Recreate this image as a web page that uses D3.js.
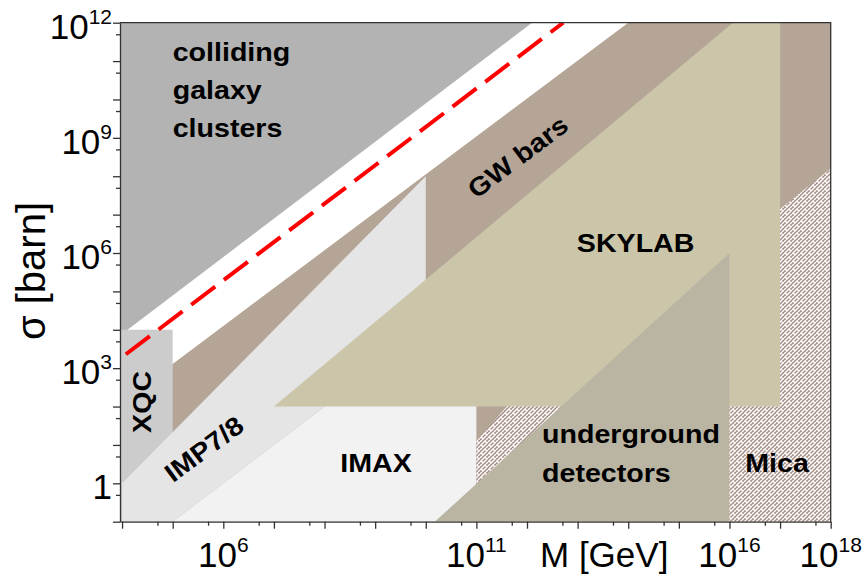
<!DOCTYPE html>
<html>
<head>
<meta charset="utf-8">
<script src="https://cdn.jsdelivr.net/npm/d3@7"></script>
<style>
  body { margin: 0; background: #fff; }
  text { font-family: "Liberation Sans", Arial, Helvetica, sans-serif; }
</style>
</head>
<body>
<svg id="chart" width="865" height="581"></svg>
<script>
// axis ranges: M in GeV, sigma in barn
const xDomain = [9.1e3, 1e18];
const yDomain = [1e-1, 1e12];
const xTickLabels = [1e6, 1e11, 1e16, 1e18];
const yTickLabels = [1, 1e3, 1e6, 1e9, 1e12];

// excluded regions, corners as [M, sigma]
const galaxyClusters = [[9.1e3, 1e12], [1.26e12, 1e12], [9.1e3, 7.1e3]];
const gwBars = [[9.1e3, 1.2e2], [1e14, 1e12], [1e18, 1e12], [1e18, 1e-1], [9.1e3, 1e-1]];
const xqc = [[9.1e3, 1e4], [1e5, 1e4], [1e5, 1e-1], [9.1e3, 1e-1]];
const imp78 = [[1e4, 1e-1], [1e4, 1], [1e10, 1e8], [1e10, 1e4], [1e5, 1e-1]];
const imax = [[1e5, 1e-1], [3e10, 3e4], [1e11, 3e4], [1e11, 1e-1]];
const mica = [[1e11, 1e-1], [1e11, 12.6], [4e11, 1e2], [1e17, 1.4e7], [1e18, 1.6e8], [1e18, 1e-1]];
const skylab = [[1e7, 1e2], [1.17e16, 1e12], [1e17, 1e12], [1e17, 1e2]];
const underground = [[1.51e10, 1e-1], [1e16, 1e6], [1e16, 1e-1]];

// dashed red line
const redLine = [[1.19e4, 2.3e3], [5.2e12, 1e12]];

// region labels: text lines, anchor point [M, sigma]
const labelNames = ['colliding', 'galaxy', 'clusters', 'GW bars', 'SKYLAB', 'XQC', 'IMP7/8', 'IMAX', 'underground', 'detectors', 'Mica'];
const labelAt = [[1e5, 1e11], [1e5, 1e10], [1e5, 1.05e9], [6.6e11, 3.2e8], [1.4e14, 1.07e6], [3.7e4, 132], [4.15e5, 7.8], [1.04e9, 2.0], [1.98e12, 11], [1.98e12, 1.1], [8.7e16, 2.0]];

const svg = d3.select('#chart');
const margin = { left: 120, right: 865 - 830.7, top: 22.7, bottom: 581 - 521.7 };

const x = d3.scaleLog().domain(xDomain).range([margin.left, 830.7]);
const y = d3.scaleLog().domain(yDomain).range([521.7, margin.top]);

// hatch for Mica
const defs = svg.append('defs');
const pat = defs.append('pattern')
  .attr('id', 'micaHatch')
  .attr('patternUnits', 'userSpaceOnUse')
  .attr('width', 8).attr('height', 8);
pat.append('rect').attr('width', 8).attr('height', 8).attr('fill', '#a88f88');
pat.append('path')
  .attr('d', 'M0,2 L2,0 M0,6 L6,0 M2,8 L8,2 M6,8 L8,6 M1,5 L3,7 M5,1 L7,3')
  .attr('stroke', '#fff').attr('stroke-width', 1.5).attr('fill', 'none');

const clip = defs.append('clipPath').attr('id', 'plotClip');
clip.append('rect')
  .attr('x', margin.left).attr('y', margin.top)
  .attr('width', 830.7 - margin.left).attr('height', 521.7 - margin.top);

const area = svg.append('g').attr('clip-path', 'url(#plotClip)');
const poly = d3.line().x(d => x(d[0])).y(d => y(d[1]));

const regions = [
  [galaxyClusters, '#b3b3b3'],
  [gwBars, '#b5a597'],
  [xqc, '#cccccc'],
  [imp78, '#e5e5e5'],
  [imax, '#f2f2f2'],
  [mica, 'url(#micaHatch)'],
  [skylab, '#cbc6aa'],
  [underground, '#bab4a3']
];

area.selectAll('path.region')
  .data(regions).enter().append('path')
  .attr('class', 'region')
  .attr('d', d => poly(d[0]) + 'Z')
  .attr('fill', d => d[1]);

area.append('path')
  .attr('d', poly(redLine))
  .attr('stroke', '#ff0000')
  .attr('stroke-width', 4)
  .attr('stroke-dasharray', '30,11')
  .attr('fill', 'none');

// region labels (slightly wide bold face, so stretch a bit)
const rot = { 'GW bars': -37, 'XQC': -90, 'IMP7/8': -36.5 };
const mid = { 'GW bars': 9, 'IMP7/8': 9 };
const anchorOf = n => ['colliding', 'galaxy', 'clusters', 'underground', 'detectors'].includes(n) ? 'start' : 'middle';

svg.selectAll('text.region-label')
  .data(labelNames).enter().append('text')
  .attr('class', 'region-label')
  .attr('transform', (d, i) => `translate(${x(labelAt[i][0])},${y(labelAt[i][1])}) rotate(${rot[d] || 0}) scale(1.1,1)`)
  .attr('y', d => mid[d] || 0)
  .attr('text-anchor', anchorOf)
  .style('font-size', '26px')
  .style('font-weight', 'bold')
  .style('fill', '#000')
  .text(d => d);

// axes
const decade = v => Math.abs(Math.log10(v) - Math.round(Math.log10(v))) < 1e-6;
const xTicks = [], yTicks = [];
for (let k = 4; k <= 18; k++) { xTicks.push(Math.pow(10, k)); if (k < 18) xTicks.push(5 * Math.pow(10, k)); }
for (let k = -1; k <= 12; k++) { yTicks.push(Math.pow(10, k)); if (k < 12) yTicks.push(5 * Math.pow(10, k)); }

const gx = svg.append('g')
  .attr('transform', 'translate(0,521.7)')
  .call(d3.axisBottom(x).tickValues(xTicks).tickFormat('').tickSizeOuter(0));
gx.selectAll('.tick line').attr('y2', d => decade(d) ? 7 : 4);

const gy = svg.append('g')
  .attr('transform', `translate(${margin.left},0)`)
  .call(d3.axisLeft(y).tickValues(yTicks).tickFormat('').tickSizeOuter(0));
gy.selectAll('.tick line').attr('x2', d => decade(d) ? -7 : -4);

svg.selectAll('.domain, .tick line').attr('stroke', '#333').attr('stroke-width', 1.3);

// frame top and right
svg.append('path')
  .attr('d', `M${margin.left},${margin.top}H830.7V521.7`)
  .attr('fill', 'none').attr('stroke', '#333').attr('stroke-width', 1.3);

// tick labels with superscripts
function powLabel(sel, v) {
  const e = Math.round(Math.log10(v));
  if (e === 0) { sel.append('tspan').text('1'); return; }
  sel.append('tspan').text('10');
  sel.append('tspan').attr('dy', -15).style('font-size', '21px').text(e);
}

xTickLabels.forEach(v => {
  const t = svg.append('text')
    .attr('x', x(v)).attr('y', 566.7)
    .attr('text-anchor', 'middle')
    .style('font-size', '35px');
  powLabel(t, v);
});

yTickLabels.forEach(v => {
  const t = svg.append('text')
    .attr('x', 112).attr('y', y(v) + 16)
    .attr('text-anchor', 'end')
    .style('font-size', '35px');
  powLabel(t, v);
});

// axis titles
svg.append('text')
  .attr('x', 540).attr('y', 566.7)
  .style('font-size', '35px')
  .text('M [GeV]');

svg.append('text')
  .attr('transform', 'translate(45,271) rotate(-90)')
  .attr('text-anchor', 'middle')
  .style('font-size', '40px')
  .text('σ [barn]');
</script>
</body>
</html>
